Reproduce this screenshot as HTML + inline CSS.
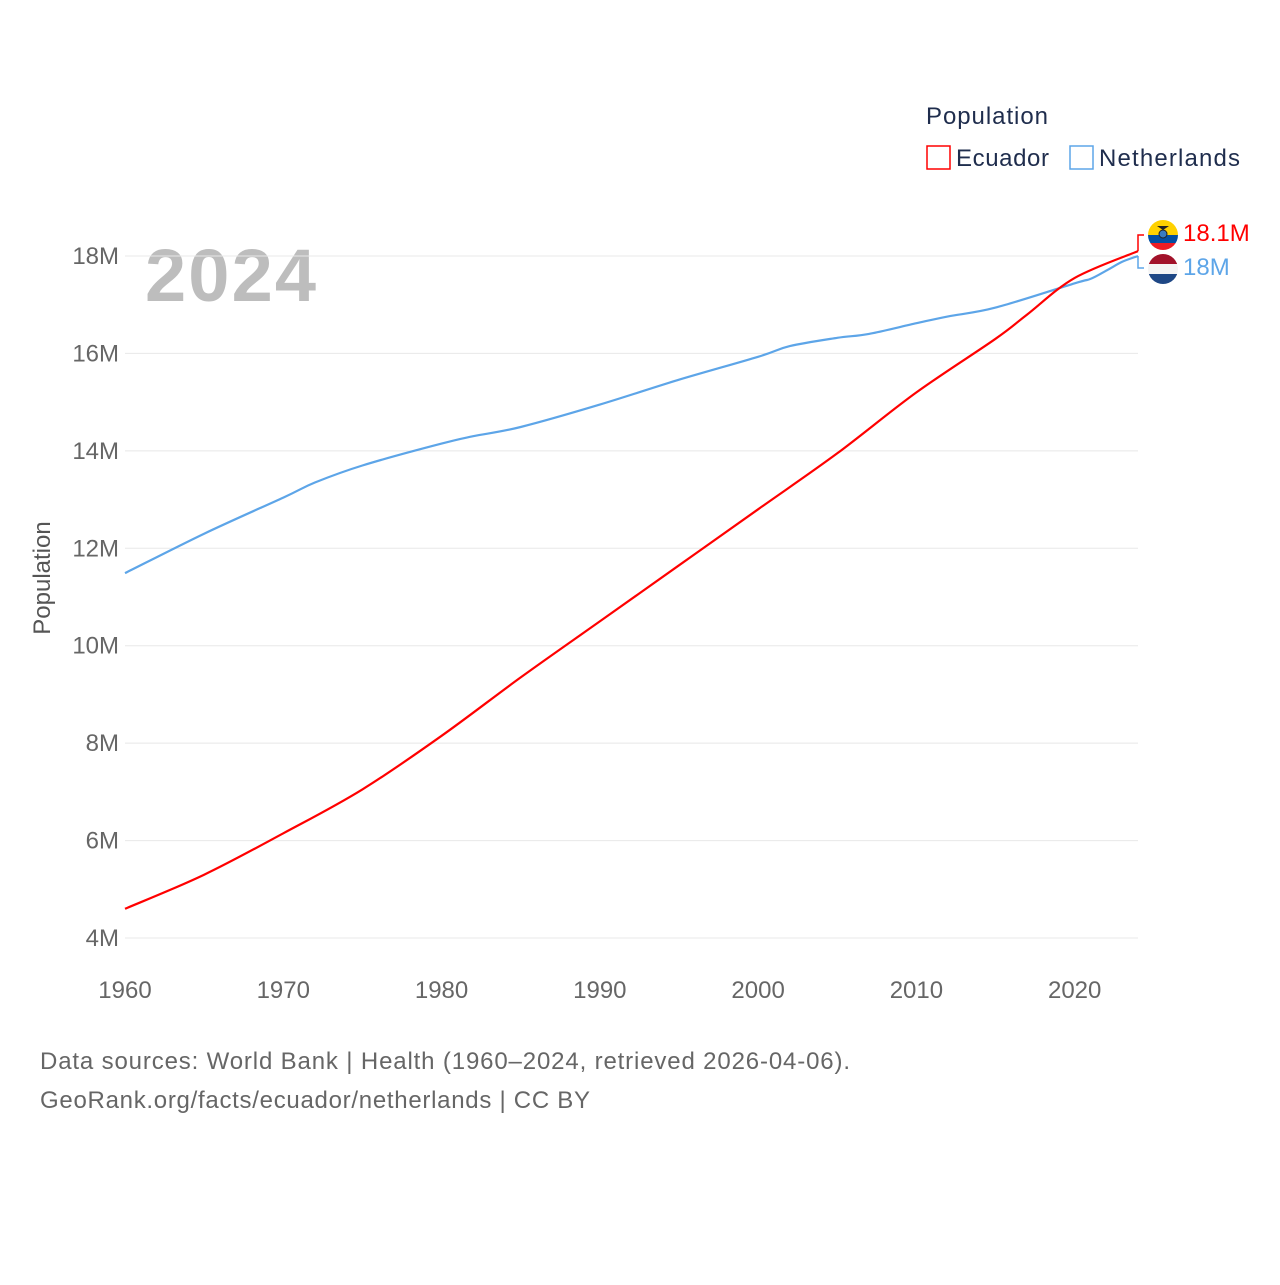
<!DOCTYPE html>
<html><head><meta charset="utf-8">
<style>
body{margin:0;background:#fff;font-family:"Liberation Sans",sans-serif}
svg text{font-family:"Liberation Sans",sans-serif}
</style></head>
<body>
<svg id="c" width="1280" height="1280" viewBox="0 0 1280 1280" xmlns="http://www.w3.org/2000/svg">
<text x="926" y="124" font-size="24" fill="#1f2d4d" textLength="122">Population</text>
<rect x="927" y="146" width="23" height="23" fill="none" stroke="#f00" stroke-width="1.5"/>
<text x="956" y="166" font-size="24" fill="#1f2d4d" textLength="93">Ecuador</text>
<rect x="1070" y="146" width="23" height="23" fill="none" stroke="#5da5e8" stroke-width="1.5"/>
<text x="1099" y="166" font-size="24" fill="#1f2d4d" textLength="141">Netherlands</text>
<text x="145" y="301" font-size="74" font-weight="bold" fill="#bdbdbd" textLength="171">2024</text>
<text transform="translate(50,578) rotate(-90)" text-anchor="middle" font-size="24" fill="#555">Population</text>
<g id="grid"></g><g id="lines"></g><g id="ends"></g>
<text x="40" y="1069" font-size="24" fill="#666" textLength="810">Data sources: World Bank | Health (1960–2024, retrieved 2026-04-06).</text>
<text x="40" y="1108" font-size="24" fill="#666" textLength="550">GeoRank.org/facts/ecuador/netherlands | CC BY</text>
</svg>
<script>
const yTicks=[4,6,8,10,12,14,16,18];
const xTicks=[1960,1970,1980,1990,2000,2010,2020];
const ecYears=[1960,1965,1970,1975,1980,1985,1990,1995,2000,2005,2010,2015,2017,2020,2024];
const ecVals=[4.6,5.3,6.15,7.05,8.15,9.35,10.5,11.65,12.8,13.95,15.2,16.3,16.8,17.55,18.1];
const nlYears=[1960,1965,1970,1972,1975,1980,1982,1985,1990,1995,2000,2002,2005,2007,2010,2012,2015,2020,2021,2022,2023,2024];
const nlVals=[11.49,12.3,13.04,13.35,13.7,14.15,14.3,14.49,14.95,15.46,15.93,16.15,16.32,16.4,16.62,16.76,16.94,17.44,17.53,17.70,17.88,18.0];
const X=y=>125+(y-1960)*(1138-125)/64;
const Y=v=>938-(v-4)*(938-256)/14;
const NS="http://www.w3.org/2000/svg";
function mk(t,a,p){const e=document.createElementNS(NS,t);for(const k in a)e.setAttribute(k,a[k]);p.appendChild(e);return e;}
const grid=document.getElementById('grid');
yTicks.forEach(v=>{
 const l=mk('line',{x1:125,x2:1138,y1:Y(v),y2:Y(v),stroke:'#e8e8e8','stroke-width':1},grid);
 
 
 const t=mk('text',{x:119,y:Y(v)+8,'text-anchor':'end','font-size':24,fill:'#666'},grid);
 t.textContent=v+'M';
 
 
});
xTicks.forEach(y=>{
 const t=mk('text',{x:X(y),y:998,'text-anchor':'middle','font-size':24,fill:'#666'},grid);
 t.textContent=y;
 
 
});
const lines=document.getElementById('lines');
function path(ys,vs){
 const p=ys.map((y,i)=>[X(y),Y(vs[i])]);
 let d='M'+p[0][0].toFixed(1)+','+p[0][1].toFixed(1);
 for(let i=0;i<p.length-1;i++){
  const p0=p[Math.max(0,i-1)],p1=p[i],p2=p[i+1],p3=p[Math.min(p.length-1,i+2)];
  const c1x=p1[0]+(p2[0]-p0[0])/6,c1y=p1[1]+(p2[1]-p0[1])/6;
  const c2x=p2[0]-(p3[0]-p1[0])/6,c2y=p2[1]-(p3[1]-p1[1])/6;
  d+=`C${c1x.toFixed(1)},${c1y.toFixed(1)} ${c2x.toFixed(1)},${c2y.toFixed(1)} ${p2[0].toFixed(1)},${p2[1].toFixed(1)}`;
 }
 return d;
}
const nl=mk('path',{d:path(nlYears,nlVals),fill:'none',stroke:'#5da5e8','stroke-width':2.2,'stroke-linejoin':'round'},lines);


const ec=mk('path',{d:path(ecYears,ecVals),fill:'none',stroke:'#f00','stroke-width':2.2,'stroke-linejoin':'round'},lines);


const ends=document.getElementById('ends');
const ex=X(2024),ey=Y(ecVals[ecVals.length-1]),ny=Y(nlVals[nlVals.length-1]);
const c1=mk('path',{d:`M${ex},${ey}L${ex},235L${ex+6},235`,fill:'none',stroke:'#f00','stroke-width':1.5},ends);


const c2=mk('path',{d:`M${ex},${ny}L${ex},268L${ex+6},268`,fill:'none',stroke:'#5da5e8','stroke-width':1.5},ends);


const defs=mk('defs',{},ends);
const cp1=mk('clipPath',{id:'f1'},defs);mk('circle',{cx:1163,cy:235,r:15},cp1);
const cp2=mk('clipPath',{id:'f2'},defs);mk('circle',{cx:1163,cy:269,r:15},cp2);
const g1=mk('g',{'clip-path':'url(#f1)'},ends);


mk('rect',{x:1148,y:220,width:30,height:15,fill:'#ffd100'},g1);
mk('rect',{x:1148,y:235,width:30,height:8,fill:'#034ea2'},g1);
mk('rect',{x:1148,y:243,width:30,height:8,fill:'#ed1c24'},g1);
mk('circle',{cx:1163,cy:234,r:4,fill:'#3a7cc2',stroke:'#222'},g1);
mk('path',{d:'M1157,226L1169,226L1163,230Z',fill:'#222'},g1);
const g2=mk('g',{'clip-path':'url(#f2)'},ends);


mk('rect',{x:1148,y:254,width:30,height:10,fill:'#a2122a'},g2);
mk('rect',{x:1148,y:264,width:30,height:10,fill:'#f4f4f4'},g2);
mk('rect',{x:1148,y:274,width:30,height:10,fill:'#1e4785'},g2);
const t1=mk('text',{x:1183,y:241,'font-size':24,fill:'#f00'},ends);
t1.textContent=ecVals[ecVals.length-1].toFixed(1)+'M';


const t2=mk('text',{x:1183,y:275,'font-size':24,fill:'#5da5e8'},ends);
t2.textContent=Math.round(nlVals[nlVals.length-1])+'M';


</script>
</body></html>
